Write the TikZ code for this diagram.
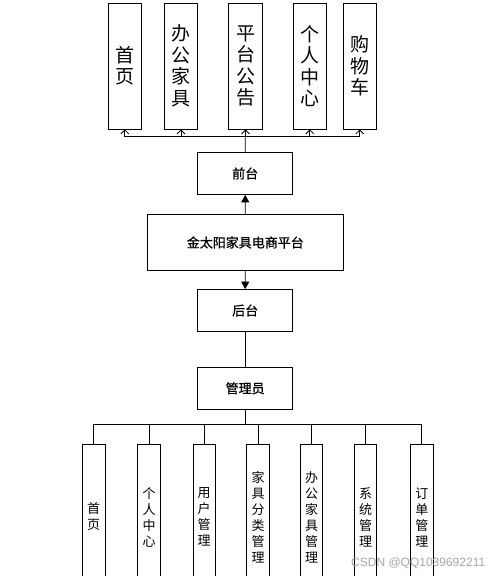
\documentclass[tikz,border=0pt]{standalone}
\usepackage{fontspec}
\newfontfamily\cjk{Noto Sans CJK SC}
\newfontfamily\cjkm[FakeBold=0.8]{Noto Sans CJK SC}
\usetikzlibrary{arrows.meta}
\tikzset{
  topbox/.style={draw, line width=0.8pt, minimum width=33.5pt, minimum height=126pt,
    inner sep=0pt, align=center, font=\cjk\fontsize{19}{21.5}\selectfont},
  midbox/.style={draw, line width=0.8pt, minimum width=95pt, minimum height=42pt,
    inner sep=0pt, align=center, font=\cjkm\fontsize{13}{15}\selectfont},
  botbox/.style={draw, line width=0.8pt, minimum width=22.5pt, minimum height=146pt,
    inner sep=0pt, align=center, font=\cjk\fontsize{13}{16}\selectfont},
  uparr/.style={-{Straight Barb[length=4pt,width=8pt]}, line width=0.8pt},
  fillarr/.style={-{Triangle[length=7.5pt,width=8pt]}, line width=0.8pt},
  wire/.style={line width=0.8pt}
}
\begin{document}
\begin{tikzpicture}[x=1pt,y=-1pt]
    \useasboundingbox (0,0) rectangle (499,576);

    % front pages
    \node[topbox] (top1) at (124.8,66) {首\\页};
    \node[topbox] (top2) at (181,66) {办\\公\\家\\具};
    \node[topbox] (top3) at (245.5,66) {平\\台\\公\\告};
    \node[topbox] (top4) at (309.8,66) {个\\人\\中\\心};
    \node[topbox] (top5) at (359.7,66) {购\\物\\车};

    % main column
    \node[midbox] (qiantai) at (245.2,173.5) {前台};
    \node[midbox, minimum width=196pt, minimum height=56.4pt] (shop) at (245.3,242.5) {金太阳家具电商平台};
    \node[midbox] (houtai) at (245.2,310.5) {后台};
    \node[midbox] (admin) at (245.2,388.3) {管理员};

    % admin pages
    \node[botbox] (bot1) at (93.7,517) {首\\页};
    \node[botbox] (bot2) at (149,517) {个\\人\\中\\心};
    \node[botbox] (bot3) at (204.2,517) {用\\户\\管\\理};
    \node[botbox] (bot4) at (258,517) {家\\具\\分\\类\\管\\理};
    \node[botbox] (bot5) at (311.5,517) {办\\公\\家\\具\\管\\理};
    \node[botbox] (bot6) at (365.5,517) {系\\统\\管\\理};
    \node[botbox] (bot7) at (421.8,517) {订\\单\\管\\理};

    % buses
    \coordinate (topbus) at (245.3,136.7);
    \coordinate (botbus) at (245.2,424.3);

    % top connectors
    \draw[wire] (qiantai.north) -- (topbus);
    \draw[wire] (topbus -| top1) -- (topbus -| top5);
    \foreach \i in {1,...,5}
        \draw[uparr] (topbus -| top\i) -- (top\i.south);

    % middle arrows
    \draw[fillarr] (shop.north) -- (qiantai.south);
    \draw[fillarr] (shop.south) -- (houtai.north);
    \draw[wire] (houtai.south) -- (admin.north);

    % bottom connectors
    \draw[wire] (admin.south) -- (botbus);
    \draw[wire] (botbus -| bot1) -- (botbus -| bot7);
    \foreach \i in {1,...,7}
        \draw[wire] (botbus -| bot\i) -- (bot\i.north);

    % watermark
    \node[anchor=west, text=black!35, inner sep=0pt, font=\fontspec{Liberation Sans}\fontsize{12}{12}\selectfont] (mark) at (351,563) {CSDN @QQ1039692211};
\end{tikzpicture}
\end{document}
